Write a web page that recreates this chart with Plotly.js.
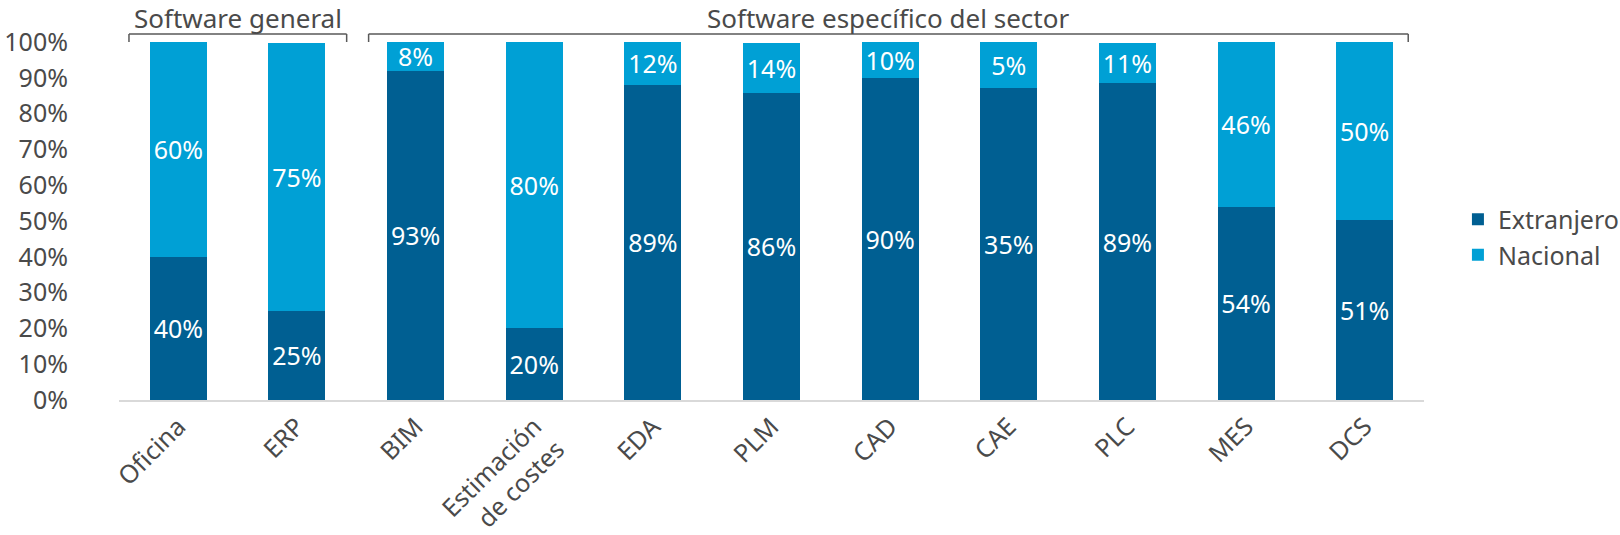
<!DOCTYPE html>
<html>
<head>
<meta charset="utf-8">
<script src="https://cdn.plot.ly/plotly-3.0.1.min.js"></script>
<style>html,body{margin:0;padding:0;background:#fff;}#chart{width:1620px;height:535px;}</style>
</head>
<body>
<div id="chart"></div>
<script>
const categories = ["Oficina", "ERP", "BIM", "Estimación<br>de costes", "EDA", "PLM", "CAD", "CAE", "PLC", "MES", "DCS"];
const extranjero = [40, 25, 92, 20, 88, 85.8, 90, 87.2, 88.5, 54, 50.3];
const nacional = [60, 74.7, 8, 80, 12, 13.9, 10, 12.8, 11.2, 46, 49.7];
const extranjeroLabels = ["40%", "25%", "93%", "20%", "89%", "86%", "90%", "35%", "89%", "54%", "51%"];
const nacionalLabels = ["60%", "75%", "8%", "80%", "12%", "14%", "10%", "5%", "11%", "46%", "50%"];
const yTickVals = [0, 10, 20, 30, 40, 50, 60, 70, 80, 90, 100];
const yTickText = ["0%", "10%", "20%", "30%", "40%", "50%", "60%", "70%", "80%", "90%", "100%"];
const groupLabels = ["Software general", "Software específico del sector"];

const FONT = "Noto Sans, sans-serif";
const TXT = "#4a4a4a";
const FS = 25;

const common = {
  type: "bar",
  x: categories,
  textposition: "inside",
  insidetextanchor: "middle",
  textangle: 0,
  constraintext: "none",
  insidetextfont: {family: FONT, size: FS, color: "#ffffff"},
  hoverinfo: "skip"
};

const traces = [
  Object.assign({}, common, {name: "Extranjero", y: extranjero, text: extranjeroLabels, marker: {color: "#005f92"}}),
  Object.assign({}, common, {name: "Nacional", y: nacional, text: nacionalLabels, marker: {color: "#00a0d5"}})
];

const bracketY = 1.0223;
const shapes = [];
function bracket(x0, x1) {
  const line = {color: "#595959", width: 1.5};
  shapes.push({type: "line", xref: "x", yref: "paper", x0: x0, x1: x1, y0: bracketY, y1: bracketY, line: line});
  shapes.push({type: "line", xref: "x", yref: "paper", x0: x0, x1: x0, y0: bracketY, y1: 1.0, line: line});
  shapes.push({type: "line", xref: "x", yref: "paper", x0: x1, x1: x1, y0: bracketY, y1: 1.0, line: line});
}
bracket(-0.416, 1.419);
bracket(1.604, 10.367);

const layout = {
  width: 1620,
  height: 535,
  margin: {l: 119, r: 196, t: 42, b: 135, autoexpand: false},
  paper_bgcolor: "#ffffff",
  plot_bgcolor: "#ffffff",
  barmode: "stack",
  bargap: 0.52,
  showlegend: true,
  font: {family: FONT, color: TXT, size: FS},
  xaxis: {
    type: "category",
    tickangle: -45,
    showline: true,
    linecolor: "#d9d9d9",
    linewidth: 2,
    showgrid: false,
    ticks: "",
    tickfont: {family: FONT, size: FS, color: TXT},
    fixedrange: true
  },
  yaxis: {
    range: [0, 100],
    tickvals: yTickVals,
    ticktext: yTickText,
    showgrid: false,
    zeroline: false,
    showline: false,
    ticks: "",
    ticklabelstandoff: 50,
    tickfont: {family: FONT, size: FS, color: TXT},
    fixedrange: true
  },
  legend: {
    x: 1.026, xanchor: "left",
    y: 0.455, yanchor: "middle",
    font: {family: FONT, size: FS, color: TXT},
    traceorder: "normal",
    itemclick: false
  },
  shapes: shapes,
  annotations: [
    {xref: "x", yref: "paper", x: 0.5015, y: 1.068, text: groupLabels[0], showarrow: false, font: {family: FONT, size: 26, color: TXT}, yanchor: "middle"},
    {xref: "x", yref: "paper", x: 5.985, y: 1.068, text: groupLabels[1], showarrow: false, font: {family: FONT, size: 26, color: TXT}, yanchor: "middle"}
  ]
};

Plotly.newPlot("chart", traces, layout, {displayModeBar: false, staticPlot: true});
</script>
</body>
</html>
